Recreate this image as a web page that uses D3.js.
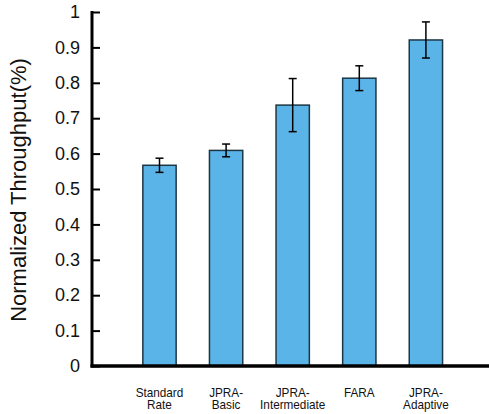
<!DOCTYPE html>
<html>
<head>
<meta charset="utf-8">
<script src="https://cdn.jsdelivr.net/npm/d3@7"></script>
<style>
  body { margin: 0; background: #fff; }
  text { font-family: "Liberation Sans", Arial, sans-serif; }
</style>
</head>
<body>
<div id="chart"></div>
<script>
// chart data
var categories = ["Standard Rate", "JPRA-Basic", "JPRA-Intermediate", "FARA", "JPRA-Adaptive"];
var labelLines = [["Standard", "Rate"], ["JPRA-", "Basic"], ["JPRA-", "Intermediate"], ["FARA"], ["JPRA-", "Adaptive"]];
var values = [0.567, 0.609, 0.737, 0.813, 0.921];
var errors = [0.020, 0.018, 0.075, 0.035, 0.051];
var yTicks = [0, 0.1, 0.2, 0.3, 0.4, 0.5, 0.6, 0.7, 0.8, 0.9, 1];

var width = 489, height = 414;
var x0 = 92, yTop = 12, yBottom = 366;

var svg = d3.select("#chart").append("svg")
    .attr("width", width)
    .attr("height", height);

var x = d3.scaleBand()
    .domain(categories)
    .range([126.2, 459.2])
    .paddingInner(0.5)
    .paddingOuter(0.25);

var y = d3.scaleLinear()
    .domain([0, 1])
    .range([yBottom, yTop]);

// bars
svg.selectAll("rect.bar")
    .data(values)
    .enter()
    .append("rect")
    .attr("class", "bar")
    .attr("x", function(d, i) { return x(categories[i]); })
    .attr("y", function(d) { return y(d); })
    .attr("width", x.bandwidth())
    .attr("height", function(d) { return y(0) - y(d); })
    .style("fill", "#5ab4e8")
    .style("stroke", "#1d3644")
    .style("stroke-width", 1.5);

// error bars
var eb = svg.selectAll("g.err")
    .data(values)
    .enter()
    .append("g")
    .attr("class", "err")
    .attr("transform", function(d, i) { return "translate(" + (x(categories[i]) + x.bandwidth() / 2) + ",0)"; });

eb.append("line")
    .attr("y1", function(d, i) { return y(d + errors[i]); })
    .attr("y2", function(d, i) { return y(d - errors[i]); })
    .style("stroke", "#000")
    .style("stroke-width", 1.5);

eb.append("line")
    .attr("x1", -4).attr("x2", 4)
    .attr("y1", function(d, i) { return y(d + errors[i]); })
    .attr("y2", function(d, i) { return y(d + errors[i]); })
    .style("stroke", "#000")
    .style("stroke-width", 1.5);

eb.append("line")
    .attr("x1", -4).attr("x2", 4)
    .attr("y1", function(d, i) { return y(d - errors[i]); })
    .attr("y2", function(d, i) { return y(d - errors[i]); })
    .style("stroke", "#000")
    .style("stroke-width", 1.5);

// y axis with inward ticks
var yAxis = svg.append("g")
    .attr("transform", "translate(" + x0 + ",0)")
    .call(d3.axisRight(y).tickValues(yTicks).tickSize(8).tickFormat(d3.format("")));

yAxis.select(".domain").remove();
yAxis.selectAll(".tick line").style("stroke", "#000").style("stroke-width", 2);
yAxis.selectAll(".tick text")
    .attr("x", -12)
    .attr("text-anchor", "end")
    .style("font-size", "18px")
    .style("fill", "#111");

svg.append("line")
    .attr("x1", x0).attr("x2", x0)
    .attr("y1", yTop - 1).attr("y2", yBottom + 1.5)
    .style("stroke", "#000")
    .style("stroke-width", 3);

// x axis line
svg.append("line")
    .attr("x1", x0 - 1.5).attr("x2", width)
    .attr("y1", yBottom).attr("y2", yBottom)
    .style("stroke", "#000")
    .style("stroke-width", 3.5);

// category labels (narrow look)
var xl = svg.selectAll("text.cat")
    .data(labelLines)
    .enter()
    .append("text")
    .attr("class", "cat")
    .attr("text-anchor", "middle")
    .style("font-size", "13.5px")
    .style("fill", "#111")
    .attr("transform", function(d, i) { return "translate(" + (x(categories[i]) + x.bandwidth() / 2) + ",396.5) scale(0.87,1)"; });

xl.selectAll("tspan")
    .data(function(d) { return d; })
    .enter()
    .append("tspan")
    .attr("x", 0)
    .attr("dy", function(d, j) { return j === 0 ? 0 : 13; })
    .text(function(d) { return d; });

// y axis title
svg.append("text")
    .attr("transform", "translate(26,190) rotate(-90)")
    .attr("text-anchor", "middle")
    .style("font-size", "22px")
    .style("fill", "#111")
    .text("Normalized Throughput(%)");
</script>
</body>
</html>
